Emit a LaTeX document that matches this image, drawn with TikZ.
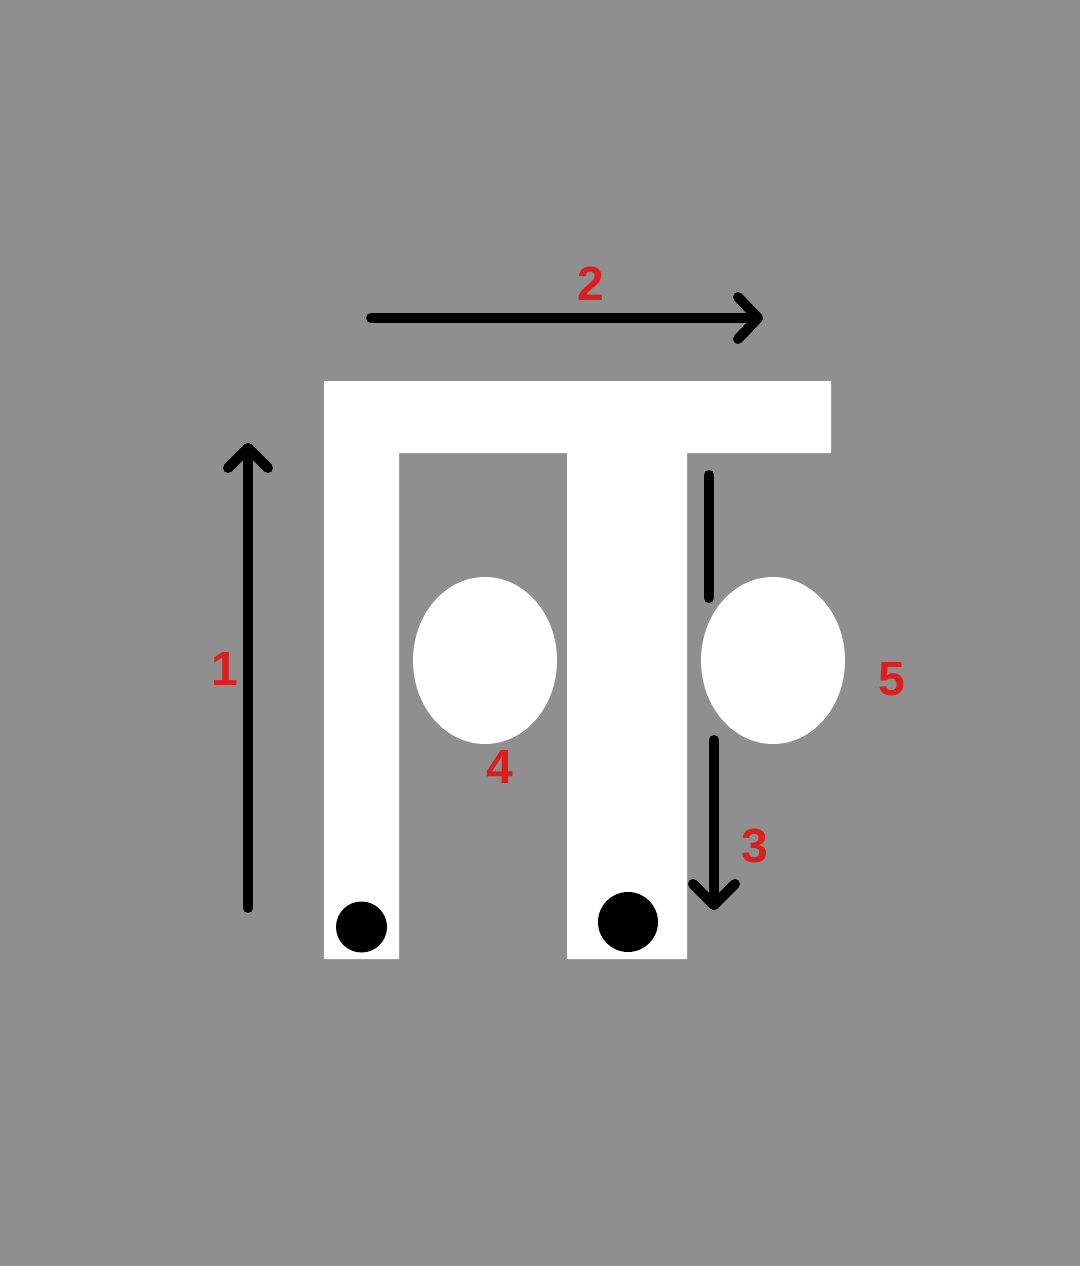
\documentclass[tikz,border=0pt]{standalone}
\usepackage{fontspec}
\setmainfont{Liberation Sans}
\definecolor{bg}{RGB}{143,143,143}
\definecolor{lbl}{RGB}{220,30,30}
\begin{document}
\begin{tikzpicture}[x=1pt,y=-1pt,
  stroke/.style={line width=10pt,line cap=round,line join=round,black},
  numlabel/.style={text=lbl,font=\fontsize{48}{48}\selectfont\bfseries,inner sep=0pt},
  whiteshape/.style={fill=white,draw=none}]
\fill[bg] (0,0) rectangle (1080,1266);
\useasboundingbox (0,0) rectangle (1080,1266);
% white frame
\fill[whiteshape] (324,381) -- (831,381) -- (831,453) -- (687,453) -- (687,959) -- (567,959)
  -- (567,453) -- (399,453) -- (399,959) -- (324,959) -- cycle;
% ellipses
\fill[whiteshape] (485,660.5) ellipse [x radius=72, y radius=83.5];
\fill[whiteshape] (773,660.5) ellipse [x radius=72, y radius=83.5];
% dots
\fill[black] (361.5,927) circle [radius=25.5];
\fill[black] (628,922) circle [radius=30];
% coordinates
\coordinate (a1s) at (248,908);
\coordinate (a1e) at (248,448);
\coordinate (a2s) at (371,318);
\coordinate (a2e) at (758,318);
\coordinate (sgs) at (709,475);
\coordinate (sge) at (709,598);
\coordinate (a3s) at (714,740);
\coordinate (a3e) at (714,905);
% arrow 1 (up)
\draw[stroke] (a1s) -- (a1e);
\draw[stroke] ([shift={(-20,20)}]a1e) -- (a1e) -- ([shift={(20,20)}]a1e);
% arrow 2 (right)
\draw[stroke] (a2s) -- (a2e);
\draw[stroke] ([shift={(-20,-21)}]a2e) -- (a2e) -- ([shift={(-20,21)}]a2e);
% plain segment
\draw[stroke] (sgs) -- (sge);
% arrow 3 (down)
\draw[stroke] (a3s) -- (a3e);
\draw[stroke] ([shift={(-21,-21)}]a3e) -- (a3e) -- ([shift={(21,-21)}]a3e);
% labels
\node[numlabel] (l1) at (225,669) {1};
\node[numlabel] (l2) at (591,284) {2};
\node[numlabel] (l3) at (755,846) {3};
\node[numlabel] (l4) at (500,767) {4};
\node[numlabel] (l5) at (892,679) {5};
\end{tikzpicture}
\end{document}
